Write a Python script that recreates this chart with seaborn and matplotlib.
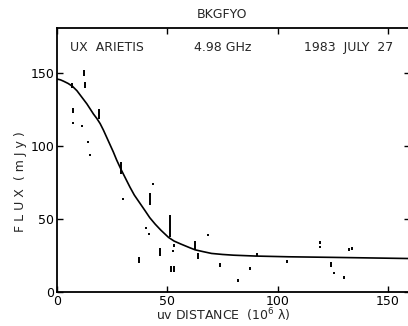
import numpy as np
import pandas as pd
import matplotlib
matplotlib.use("Agg")
import matplotlib.pyplot as plt
import seaborn as sns

# model curve
curve_x = [0, 1.5, 3, 5, 7, 9, 10.5, 12, 13.5, 15, 16.5, 18, 19.5, 21, 22.5, 24,
           25.5, 27, 29, 31, 33, 35, 37.5, 40, 42, 44.5, 47, 50.5, 53, 56, 60,
           62.5, 66, 70, 75, 80, 90, 105, 125, 160]
curve_y = [146, 145.5, 144.5, 143, 141, 138, 135, 132, 129, 125.5, 122, 119,
           115.5, 111, 106, 101, 96, 90.5, 84, 78, 72, 66.5, 61, 55.5, 51, 46.5,
           42.5, 37.5, 35, 33, 30.5, 29, 27.8, 26.5, 25.8, 25.3, 24.7, 24.2,
           23.8, 23]

# visibility amplitudes (uv distance, flux, half-length of error bar)
uv = [6.8, 12.3, 12.7, 7.1, 7.1, 11.2, 14.0, 14.7, 19.2, 29.0, 29.8, 43.3, 42.3,
      40.3, 41.8, 51.4, 46.8, 53.2, 52.6, 37.0, 51.5, 53.2, 62.7, 64.0, 68.5,
      73.8, 82.1, 87.4, 90.8, 104.0, 119.0, 119.0, 124.0, 125.6, 130.0, 132.5, 133.5]
flux = [141.5, 150, 142, 124.5, 116, 114, 103, 94, 122, 85, 64, 74, 64,
        44, 40, 45.5, 27.5, 32, 28, 22, 16, 16, 32, 25, 39,
        18.5, 8, 16, 26, 21, 34, 31, 19, 13, 10, 29.5, 30]
err = [1.5, 2, 2, 1.5, 0.8, 0.8, 0.8, 0.8, 3.5, 4, 0.6, 0.8, 4,
       0.8, 0.8, 7.5, 2.5, 0.8, 0.8, 2, 2, 2, 3, 2, 0.8,
       1.5, 0.8, 1, 1, 0.8, 0.8, 0.8, 1.5, 0.8, 0.8, 1, 1]

df = pd.DataFrame({"uv": uv, "flux": flux, "err": err})
model = pd.DataFrame({"uv": curve_x, "flux": curve_y})

sns.set_theme(style="ticks")
plt.rcParams["font.family"] = ["DejaVu Sans"]

fig = plt.figure(figsize=(4.08, 3.26), dpi=100)
ax = fig.add_axes([0.14, 0.104, 0.865, 0.81])

sns.lineplot(data=model, x="uv", y="flux", color="black", linewidth=1.2, ax=ax)
ax.vlines(df["uv"], df["flux"] - df["err"], df["flux"] + df["err"],
          color="black", linewidth=1.4)

ax.set_xlim(0, 160)
ax.set_ylim(0, 181)
ax.set_xticks([0, 50, 100, 150])
ax.set_yticks([0, 50, 100, 150])
ax.tick_params(direction="in", length=4, width=1, top=True, right=True,
               labelsize=9, colors="black", pad=2)
for s in ax.spines.values():
    s.set_linewidth(1.3)
    s.set_color("black")

ax.set_xlabel("uv DISTANCE  (10$^6$ λ)", fontsize=9)
ax.set_ylabel("F L U X  ( m J y )", fontsize=9)
ax.xaxis.set_label_coords(0.47, -0.055)
ax.yaxis.set_label_coords(-0.085, 0.42)

ax.text(22.7, 168, "UX  ARIETIS", ha="center", va="center", fontsize=9)
ax.text(75, 168, "4.98 GHz", ha="center", va="center", fontsize=9)
ax.text(132, 168, "1983  JULY  27", ha="center", va="center", fontsize=9)
fig.text(0.545, 0.955, "BKGFYO", ha="center", va="center", fontsize=9)

fig.savefig("out.png", dpi=100)
